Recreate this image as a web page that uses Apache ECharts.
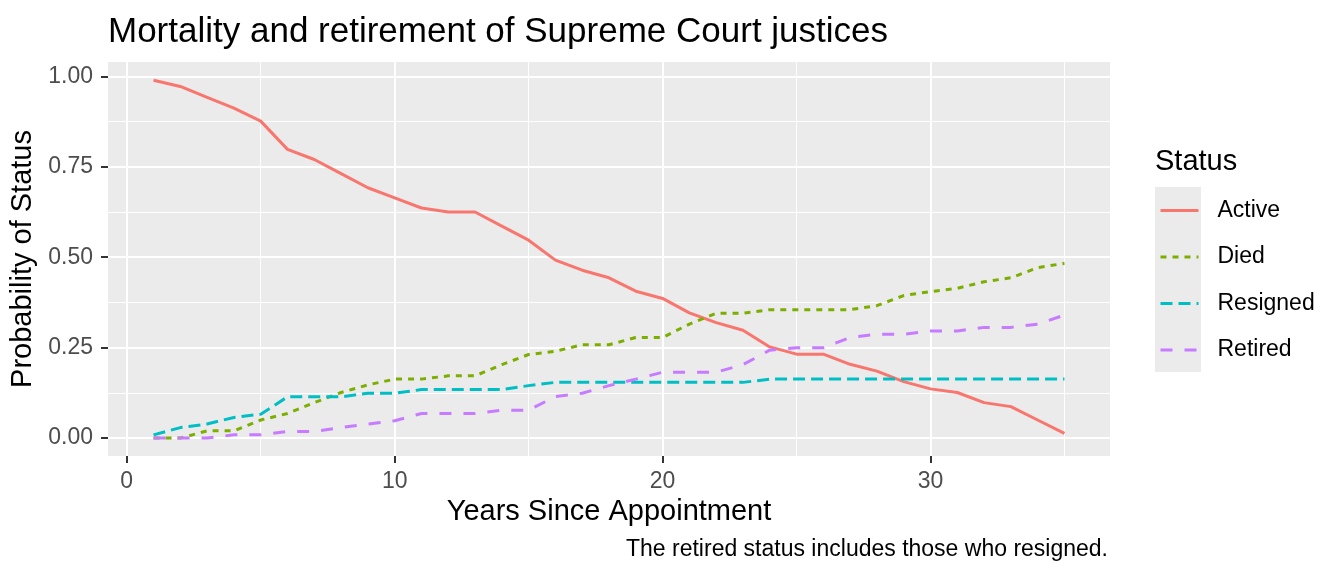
<!DOCTYPE html>
<html>
<head>
<meta charset="utf-8">
<script src="https://cdn.jsdelivr.net/npm/echarts@6/dist/echarts.min.js"></script>
<style>
  html, body { margin: 0; padding: 0; background: #fff; }
  #main { width: 1344px; height: 576px; }
</style>
</head>
<body>
<div id="main"></div>
<script>
// years since appointment
var years = [];
for (var y = 1; y <= 35; y++) years.push(y);

var statusNames = ['Active', 'Died', 'Resigned', 'Retired'];

var active = [0.989, 0.972, 0.942, 0.912, 0.876, 0.798, 0.770, 0.731, 0.692, 0.664,
  0.636, 0.625, 0.625, 0.586, 0.547, 0.492, 0.464, 0.443, 0.406, 0.386,
  0.346, 0.319, 0.298, 0.252, 0.232, 0.232, 0.204, 0.185, 0.156, 0.136,
  0.126, 0.098, 0.087, 0.050, 0.013];
var died = [0, 0, 0.020, 0.020, 0.050, 0.068, 0.098, 0.126, 0.147, 0.163,
  0.163, 0.172, 0.172, 0.203, 0.231, 0.240, 0.258, 0.258, 0.278, 0.278,
  0.315, 0.345, 0.345, 0.355, 0.355, 0.355, 0.355, 0.366, 0.394, 0.405,
  0.414, 0.432, 0.443, 0.471, 0.483];
var resigned = [0.009, 0.029, 0.039, 0.057, 0.066, 0.114, 0.114, 0.114, 0.124, 0.124,
  0.134, 0.134, 0.134, 0.134, 0.145, 0.154, 0.154, 0.154, 0.154, 0.154,
  0.154, 0.154, 0.154, 0.163, 0.163, 0.163, 0.163, 0.163, 0.163, 0.163,
  0.163, 0.163, 0.163, 0.163, 0.163];
var retired = [0, 0, 0, 0.009, 0.009, 0.018, 0.018, 0.029, 0.039, 0.048,
  0.068, 0.068, 0.068, 0.077, 0.077, 0.115, 0.124, 0.145, 0.163, 0.182,
  0.182, 0.182, 0.203, 0.243, 0.250, 0.250, 0.278, 0.287, 0.287, 0.296,
  0.296, 0.306, 0.306, 0.315, 0.340];

var xTicks = [0, 10, 20, 30];
var xMinor = [5, 15, 25, 35];
var yTicks = [0, 0.25, 0.5, 0.75, 1];
var yMinor = [0.125, 0.375, 0.625, 0.875];

var colors = ['#F8766D', '#7CAE00', '#00BFC4', '#C77CFF'];
var lw = 3;
var dashes = ['solid', [lw * 2, lw * 2], [lw * 4, lw * 2], [lw * 4, lw * 4]];

function pairs(vals) {
  return years.map(function (yr, i) { return [yr, vals[i]]; });
}
var seriesVals = [active, died, resigned, retired];

var font = 'Liberation Sans, Arial, Helvetica, sans-serif';
var myChart = echarts.init(document.getElementById('main'));

var option = {
  animation: false,
  textStyle: { fontFamily: font },
  title: [
    {
      text: 'Mortality and retirement of Supreme Court justices',
      left: 103, top: 10,
      textStyle: { fontSize: 35, fontWeight: 'normal', color: '#000', fontFamily: font, lineHeight: 35 }
    },
    {
      text: 'The retired status includes those who resigned.',
      right: 231, top: 533,
      textStyle: { fontSize: 23, fontWeight: 'normal', color: '#000', fontFamily: font, lineHeight: 23 }
    },
    {
      text: 'Status',
      left: 1150, top: 142,
      textStyle: { fontSize: 29, fontWeight: 'normal', color: '#000', fontFamily: font, lineHeight: 29 }
    }
  ],
  graphic: [
    { type: 'rect', left: 1155, top: 187, shape: { width: 46, height: 185 }, style: { fill: '#EBEBEB' }, z: -1 }
  ],
  legend: {
    orient: 'vertical',
    left: 1159, top: 199,
    itemWidth: 38, itemHeight: 24, itemGap: 23.5,
    padding: 0,
    data: statusNames,
    itemStyle: { opacity: 0 },
    lineStyle: { width: lw },
    textStyle: { fontSize: 23, color: '#000', fontFamily: font, padding: [0, 0, 0, 14] }
  },
  grid: {
    left: 108, top: 62, width: 1002, height: 394,
    show: true, backgroundColor: '#EBEBEB', borderWidth: 0
  },
  xAxis: [
    {
      type: 'value', min: -0.7, max: 36.7,
      name: 'Years Since Appointment', nameLocation: 'middle', nameGap: 38,
      nameTextStyle: { fontSize: 29, color: '#000', fontFamily: font },
      axisLine: { show: false, onZero: false },
      axisTick: { show: true, length: 7, customValues: xTicks, lineStyle: { color: '#333', width: 2 } },
      axisLabel: { customValues: xTicks, margin: 14, fontSize: 23, color: '#4D4D4D', fontFamily: font },
      splitLine: { show: true, lineStyle: { color: '#fff', width: 2 } }
    },
    {
      type: 'value', min: -0.7, max: 36.7, position: 'bottom',
      axisLine: { show: false, onZero: false },
      axisTick: { show: false, customValues: xMinor },
      axisLabel: { show: false, customValues: xMinor },
      splitLine: { show: true, lineStyle: { color: '#fff', width: 1 } }
    }
  ],
  yAxis: [
    {
      type: 'value', min: -0.0495, max: 1.0395,
      name: 'Probability of Status', nameLocation: 'middle', nameGap: 62,
      nameTextStyle: { fontSize: 29, color: '#000', fontFamily: font },
      axisLine: { show: false, onZero: false },
      axisTick: { show: true, length: 7, customValues: yTicks, lineStyle: { color: '#333', width: 2 } },
      axisLabel: {
        customValues: yTicks, margin: 15, fontSize: 23, color: '#4D4D4D', fontFamily: font,
        formatter: function (v) { return v.toFixed(2); }
      },
      splitLine: { show: true, lineStyle: { color: '#fff', width: 2 } }
    },
    {
      type: 'value', min: -0.0495, max: 1.0395, position: 'left',
      axisLine: { show: false, onZero: false },
      axisTick: { show: false, customValues: yMinor },
      axisLabel: { show: false, customValues: yMinor },
      splitLine: { show: true, lineStyle: { color: '#fff', width: 1 } }
    }
  ],
  series: statusNames.map(function (name, i) {
    return {
      name: name,
      type: 'line',
      data: pairs(seriesVals[i]),
      showSymbol: false,
      symbol: 'none',
      color: colors[i],
      lineStyle: { color: colors[i], width: lw, type: dashes[i], cap: 'butt' },
      z: 3 + i
    };
  })
};

myChart.setOption(option);
</script>
</body>
</html>
